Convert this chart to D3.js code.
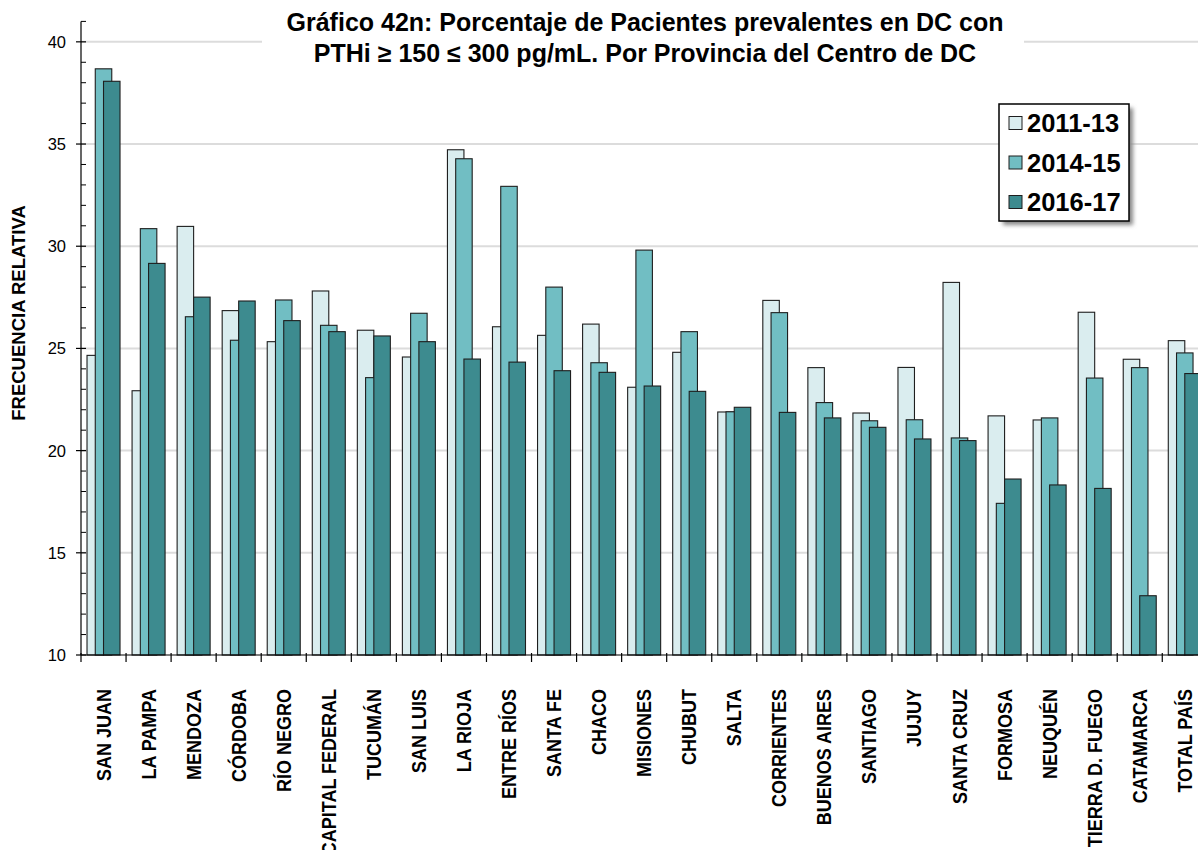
<!DOCTYPE html>
<html>
<head>
<meta charset="utf-8">
<script src="https://cdn.jsdelivr.net/npm/d3@7"></script>
<style>
  body { margin: 0; background: #fff; }
  svg { display: block; font-family: "Liberation Sans", Arial, sans-serif; }
</style>
</head>
<body>
<svg id="chart" width="1198" height="850"></svg>
<script>
const categories = ["SAN JUAN","LA PAMPA","MENDOZA","CÓRDOBA","RÍO NEGRO","CAPITAL FEDERAL","TUCUMÁN","SAN LUIS","LA RIOJA","ENTRE RÍOS","SANTA FE","CHACO","MISIONES","CHUBUT","SALTA","CORRIENTES","BUENOS AIRES","SANTIAGO","JUJUY","SANTA CRUZ","FORMOSA","NEUQUÉN","TIERRA D. FUEGO","CATAMARCA","TOTAL PAÍS"];
const seriesNames = ["2011-13","2014-15","2016-17"];
const s2011_13 = [24.66,22.93,30.97,26.85,25.33,27.81,25.89,24.58,34.72,26.06,25.64,26.19,23.10,24.81,21.89,27.35,24.06,21.84,24.07,28.23,21.70,21.50,26.77,24.47,25.38];
const s2014_15 = [38.68,30.86,26.55,25.40,27.37,26.13,23.57,26.72,34.28,32.93,28.00,24.30,29.81,25.82,21.90,26.75,22.35,21.46,21.51,20.62,17.42,21.60,23.55,24.06,24.78];
const s2016_17 = [38.07,29.16,27.51,27.32,26.36,25.82,25.61,25.33,24.48,24.33,23.91,23.83,23.16,22.90,22.12,21.87,21.60,21.14,20.57,20.49,18.61,18.32,18.15,12.90,23.77];
const yTicks = [10,15,20,25,30,35,40];
const yMinorTicks = d3.range(10, 42, 1);
const titleLines = ["Gráfico 42n: Porcentaje de Pacientes prevalentes en DC con","PTHi ≥ 150 ≤ 300 pg/mL. Por Provincia del Centro de DC"];
const yAxisTitle = "FRECUENCIA RELATIVA";

const colors = ["#DAEDEF","#71BEC3","#3D8B8F"];
const seriesData = [s2011_13, s2014_15, s2016_17];

const svg = d3.select("#chart");
const plotLeft = 81, plotRight = 1207.3, plotTop = 21.4, plotBottom = 655;

const y = d3.scaleLinear().domain([10, 41]).range([plotBottom, plotTop]);
const x0 = d3.scaleBand().domain(categories).range([plotLeft, plotRight]).paddingInner(0.2675).paddingOuter(0.1335);
const bw = x0.bandwidth();
const x1 = d3.scaleLinear().domain([0, 2]).range([0, bw / 2]);
const step = x0.step();

// gridlines
svg.append("g").selectAll("line").data(yTicks.filter(d => d > 10)).join("line")
  .attr("x1", plotLeft).attr("x2", 1198)
  .attr("y1", d => y(d)).attr("y2", d => y(d))
  .attr("stroke", "#DCDCDC").attr("stroke-width", 2);

// title background
svg.append("rect").attr("x", 262).attr("y", 0).attr("width", 762).attr("height", 72).attr("fill", "#fff");

// bars
const groups = svg.append("g").selectAll("g").data(categories).join("g")
  .attr("transform", d => `translate(${x0(d)},0)`);
groups.each(function(c, ci) {
  const g = d3.select(this);
  seriesData.forEach((s, si) => {
    g.append("rect")
      .attr("x", x1(si))
      .attr("width", bw / 2)
      .attr("y", y(s[ci]))
      .attr("height", y(10) - y(s[ci]))
      .attr("fill", colors[si])
      .attr("stroke", "#1e1e1e")
      .attr("stroke-width", 1.1);
  });
});

// y axis
const yAxisG = svg.append("g").attr("transform", `translate(${plotLeft},0)`);
yAxisG.append("line").attr("x1", 0).attr("x2", 0).attr("y1", plotTop).attr("y2", plotBottom).attr("stroke", "#000").attr("stroke-width", 1.2);
yAxisG.selectAll("line.minor").data(yMinorTicks.filter(d => d % 5 !== 0)).join("line")
  .attr("class", "minor").attr("x1", 0).attr("x2", 5)
  .attr("y1", d => y(d)).attr("y2", d => y(d)).attr("stroke", "#000").attr("stroke-width", 1);
yAxisG.selectAll("line.major").data(yTicks).join("line")
  .attr("class", "major").attr("x1", -5).attr("x2", 5)
  .attr("y1", d => y(d)).attr("y2", d => y(d)).attr("stroke", "#000").attr("stroke-width", 1.2);
yAxisG.selectAll("text").data(yTicks).join("text")
  .attr("x", -15).attr("y", d => y(d)).attr("dy", "0.36em")
  .attr("text-anchor", "end").attr("font-size", 16.5).attr("fill", "#000")
  .text(d => d);

// x axis
const xAxisG = svg.append("g");
xAxisG.append("line").attr("x1", plotLeft).attr("x2", 1198).attr("y1", plotBottom).attr("y2", plotBottom).attr("stroke", "#000").attr("stroke-width", 1.2);
xAxisG.selectAll("line.tick").data(d3.range(categories.length + 1)).join("line")
  .attr("class", "tick")
  .attr("x1", i => plotLeft + i * step).attr("x2", i => plotLeft + i * step)
  .attr("y1", plotBottom - 2).attr("y2", plotBottom + 7).attr("stroke", "#000").attr("stroke-width", 1.2);
xAxisG.selectAll("text").data(categories).join("text")
  .attr("transform", d => `translate(${x0(d) + bw / 2 + 7},689) rotate(-90) scale(1,1.08)`)
  .attr("text-anchor", "end").attr("font-size", 18).attr("font-weight", "bold").attr("fill", "#000")
  .text(d => d);

// y axis title
svg.append("text")
  .attr("transform", "translate(25,313) rotate(-90)")
  .attr("text-anchor", "middle").attr("font-size", 18.5).attr("font-weight", "bold")
  .text(yAxisTitle);

// title
svg.append("g").selectAll("text").data(titleLines).join("text")
  .attr("x", 645).attr("y", (d, i) => 31 + i * 31)
  .attr("text-anchor", "middle").attr("font-size", 25).attr("font-weight", "bold")
  .text(d => d);

// legend
const defs = svg.append("defs");
const filt = defs.append("filter").attr("id", "shadow").attr("x", "-10%").attr("y", "-10%").attr("width", "130%").attr("height", "130%");
filt.append("feGaussianBlur").attr("stdDeviation", 2);
const leg = svg.append("g").attr("transform", "translate(999,104)");
leg.append("rect").attr("x", 4).attr("y", 4).attr("width", 130).attr("height", 117).attr("fill", "#888").attr("filter", "url(#shadow)");
leg.append("rect").attr("width", 130).attr("height", 117).attr("fill", "#fff").attr("stroke", "#000").attr("stroke-width", 1.5);
const items = leg.selectAll("g.item").data(seriesNames).join("g").attr("class", "item")
  .attr("transform", (d, i) => `translate(0,${19 + i * 39.5})`);
items.append("rect").attr("x", 10).attr("y", -6.5).attr("width", 13).attr("height", 13)
  .attr("fill", (d, i) => colors[i]).attr("stroke", "#1e1e1e").attr("stroke-width", 1);
items.append("text").attr("x", 28).attr("y", 0).attr("dy", "0.36em")
  .attr("font-size", 25.5).attr("font-weight", "bold").text(d => d);
</script>
</body>
</html>
